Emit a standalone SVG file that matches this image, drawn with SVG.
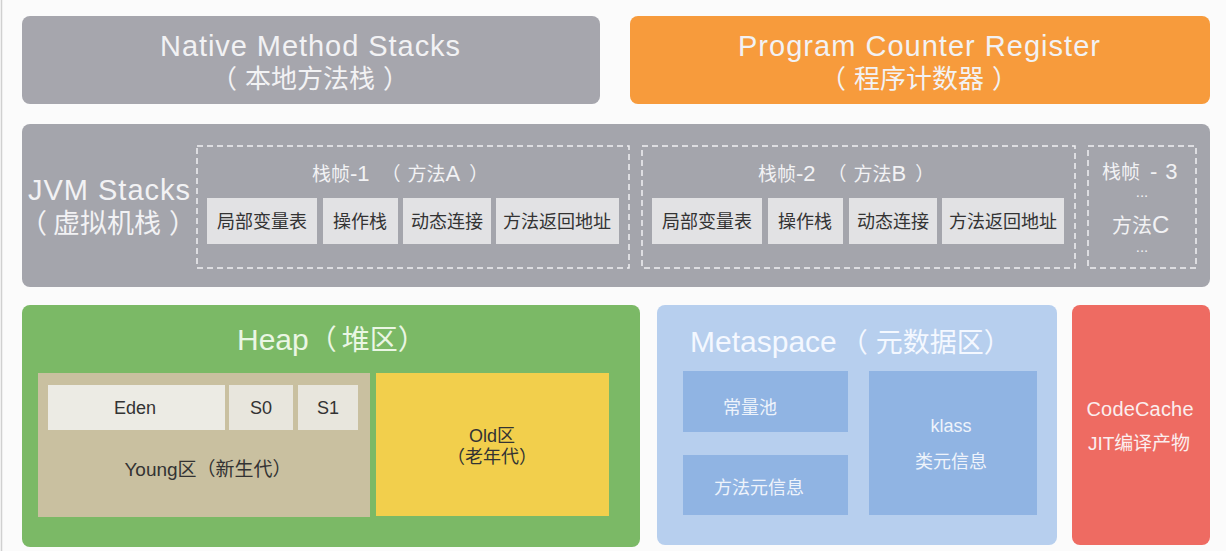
<svg xmlns="http://www.w3.org/2000/svg" width="1226" height="551" viewBox="0 0 1226 551">
<defs>
<style>
.t{font-family:"Liberation Sans","Noto Sans CJK SC",sans-serif;text-anchor:middle}
.l{font-family:"Liberation Sans","Noto Sans CJK SC",sans-serif;text-anchor:start}
.w{fill:#f2f2f4}
.d{fill:#333333}
.big{font-size:29px}
.sm{font-size:18px}
.cell{fill:#e2e2e4}
.dash{fill:none;stroke:#f0f0f2;stroke-width:1.5;stroke-dasharray:6 4}
</style>
</defs>
<rect x="0" y="0" width="1226" height="551" fill="#fbfbfb"/>
<line x1="1.5" y1="0" x2="1.5" y2="551" stroke="#d0d0d0" stroke-width="1.5"/>

<g id="native">
<rect x="22" y="16" width="578" height="88" rx="8" fill="#a6a6ad"/>
<text class="t w big" x="310" y="56" textLength="300">Native Method Stacks</text>
<text class="t w" font-size="26" x="310" y="88">（<tspan dx="8">本地方法栈</tspan><tspan dx="8">）</tspan></text>
</g>

<g id="pc">
<rect x="630" y="16" width="580" height="88" rx="8" fill="#f79b3c"/>
<text class="t w big" x="919" y="56" textLength="362">Program Counter Register</text>
<text class="t w" font-size="26" x="919" y="88">（<tspan dx="8">程序计数器</tspan><tspan dx="8">）</tspan></text>
</g>

<g id="jvm">
<rect x="22" y="124" width="1188" height="163" rx="8" fill="#a4a5ac"/>
<text class="l w big" x="28" y="200" textLength="162">JVM Stacks</text>
<text class="l w" font-size="27" x="20" y="233">（<tspan dx="6">虚拟机栈</tspan><tspan dx="8">）</tspan></text>
</g>

<g id="frame1">
<rect class="dash" x="197" y="146" width="432" height="122"/>
<text class="l w" font-size="19" x="312" y="181">栈帧<tspan font-size="22">-1</tspan><tspan dx="12">（</tspan><tspan dx="7">方法</tspan><tspan font-size="22">A</tspan><tspan dx="9">）</tspan></text>
<rect class="cell" x="207" y="198" width="110" height="46"/>
<rect class="cell" x="323" y="198" width="75" height="46"/>
<rect class="cell" x="403" y="198" width="88" height="46"/>
<rect class="cell" x="496" y="198" width="123" height="46"/>
<text class="t d sm" x="262" y="228">局部变量表</text>
<text class="t d sm" x="360" y="228">操作栈</text>
<text class="t d sm" x="447" y="228">动态连接</text>
<text class="t d sm" x="557" y="228">方法返回地址</text>
</g>

<g id="frame2">
<rect class="dash" x="642" y="146" width="433" height="122"/>
<text class="l w" font-size="19" x="758" y="181">栈帧<tspan font-size="22">-2</tspan><tspan dx="12">（</tspan><tspan dx="7">方法</tspan><tspan font-size="22">B</tspan><tspan dx="9">）</tspan></text>
<rect class="cell" x="652" y="198" width="110" height="46"/>
<rect class="cell" x="768" y="198" width="75" height="46"/>
<rect class="cell" x="849" y="198" width="88" height="46"/>
<rect class="cell" x="942" y="198" width="122" height="46"/>
<text class="t d sm" x="707" y="228">局部变量表</text>
<text class="t d sm" x="805" y="228">操作栈</text>
<text class="t d sm" x="893" y="228">动态连接</text>
<text class="t d sm" x="1003" y="228">方法返回地址</text>
</g>

<g id="frame3">
<rect class="dash" x="1088" y="146" width="108" height="122"/>
<text class="l w" font-size="19" x="1102" y="179">栈帧<tspan font-size="22" dx="10">-</tspan><tspan font-size="22" dx="8">3</tspan></text>
<text class="t w" font-size="15" x="1142" y="197">...</text>
<text class="l w" font-size="20" x="1112" y="233">方法<tspan font-size="24">C</tspan></text>
<text class="t w" font-size="15" x="1142" y="252">...</text>
</g>

<g id="heap">
<rect x="22" y="305" width="618" height="242" rx="8" fill="#7bb966"/>
<text class="l" fill="#eaf6e4" font-size="30" x="237" y="350">Heap<tspan font-size="28">（</tspan><tspan font-size="28" dx="5">堆区</tspan><tspan font-size="28">）</tspan></text>
</g>

<g id="young">
<rect x="38" y="373" width="332" height="144" fill="#c9c0a0"/>
<text class="t d" font-size="19" x="208" y="476">Young区（新生代）</text>
</g>
<g id="eden">
<rect x="48" y="385" width="177" height="45" fill="#ecebe4"/>
<text class="t d sm" x="135" y="414">Eden</text>
</g>
<g id="s0">
<rect x="229" y="385" width="64" height="45" fill="#e8e6dd"/>
<text class="t d sm" x="261" y="414">S0</text>
</g>
<g id="s1">
<rect x="298" y="385" width="60" height="45" fill="#e8e6dd"/>
<text class="t d sm" x="328" y="414">S1</text>
</g>
<g id="old">
<rect x="376" y="373" width="233" height="143" fill="#f2cf4c"/>
<text class="t d sm" x="492" y="442">Old区</text>
<text class="t d sm" x="492" y="463">（老年代）</text>
</g>

<g id="metaspace">
<rect x="657" y="305" width="400" height="240" rx="8" fill="#b7cfee"/>
<text class="l" fill="#f4f8ff" font-size="30" x="690" y="352">Metaspace<tspan font-size="27" dx="4">（</tspan><tspan font-size="27" dx="8">元数据区</tspan><tspan font-size="27">）</tspan></text>
</g>
<g id="constpool">
<rect x="683" y="371" width="165" height="61" fill="#90b4e3"/>
<text class="t sm" fill="#eef3fb" x="750" y="414">常量池</text>
</g>
<g id="methodmeta">
<rect x="683" y="455" width="165" height="60" fill="#90b4e3"/>
<text class="t sm" fill="#eef3fb" x="759" y="494">方法元信息</text>
</g>
<g id="klass">
<rect x="869" y="371" width="168" height="144" fill="#90b4e3"/>
<text class="t sm" fill="#eef3fb" x="951" y="432">klass</text>
<text class="t sm" fill="#eef3fb" x="951" y="468">类元信息</text>
</g>

<g id="codecache">
<rect x="1072" y="305" width="138" height="240" rx="8" fill="#ee6b62"/>
<text class="t" font-size="20" fill="#fbeeee" x="1140" y="416" textLength="107">CodeCache</text>
<text class="t" font-size="19" fill="#fbeeee" x="1139" y="450" textLength="102">JIT编译产物</text>
</g>

<g id="connectors"></g>
</svg>
